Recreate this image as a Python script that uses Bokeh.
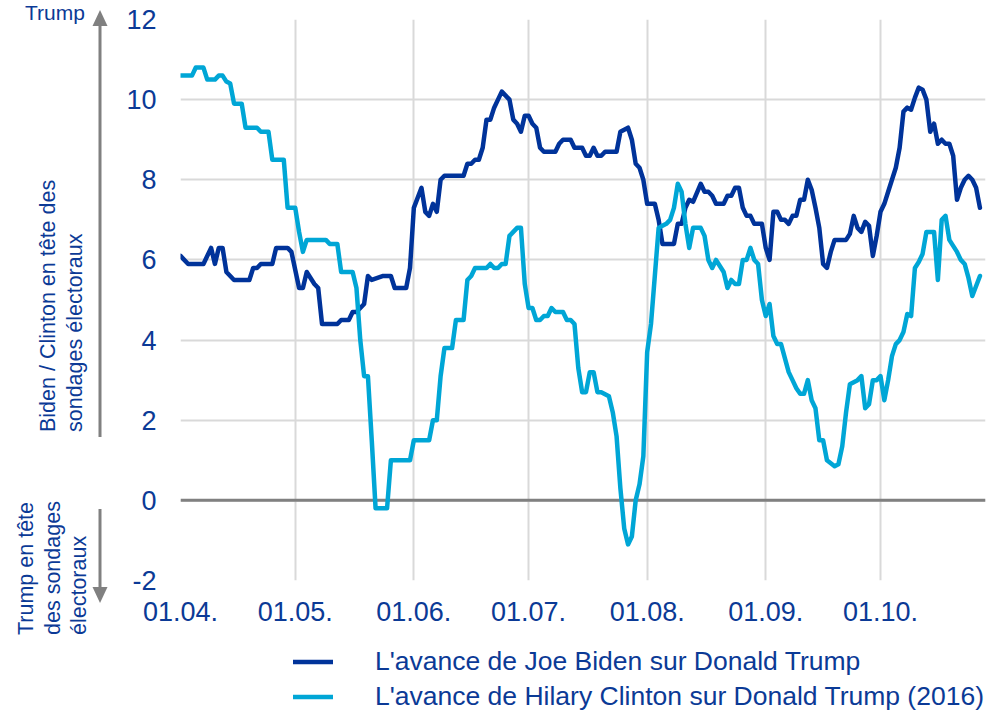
import pandas as pd
from bokeh.embed import file_html
from bokeh.layouts import column, row
from bokeh.models import (ColumnDataSource, DatetimeTickFormatter, Div, FixedTicker,
                          Legend, LegendItem, Range1d, Span)
from bokeh.plotting import figure
from bokeh.resources import INLINE

# Lead in the poll average, in percentage points, by day counted from 1 April
biden_day = [0, 2, 6, 8, 9, 10, 11, 12, 14, 18, 19, 20, 21, 24, 25, 28, 29, 31, 32, 33,
             35, 36, 37, 41, 42, 44, 45, 46, 48, 49, 50, 53, 55, 56, 59, 60, 61, 63, 64, 65,
             66, 67, 68, 69, 74, 75, 76, 77, 78, 79, 80, 81, 82, 83, 84, 85, 86, 87, 88, 89,
             90, 91, 92, 93, 94, 95, 98, 99, 100, 102, 103, 105, 106, 107, 108, 109, 110, 111, 114, 115,
             117, 118, 119, 120, 121, 122, 124, 125, 126, 129, 130, 131, 132, 133, 134, 136, 137, 138, 139, 140,
             142, 143, 144, 145, 146, 147, 148, 149, 150, 152, 153, 154, 155, 156, 157, 158, 159, 160, 161, 162,
             163, 164, 165, 166, 167, 168, 169, 170, 171, 174, 175, 176, 177, 178, 179, 180, 181, 182, 183, 184,
             185, 186, 187, 188, 189, 190, 191, 192, 193, 194, 195, 196, 197, 198, 199, 200, 201, 202, 203, 204,
             205, 206, 207, 208, 209]
biden_lead = [6.1, 5.9, 5.9, 6.3, 5.9, 6.3, 6.3, 5.7, 5.5, 5.5, 5.8, 5.8, 5.9, 5.9, 6.3, 6.3, 6.2, 5.3, 5.3, 5.7,
              5.4, 5.3, 4.4, 4.4, 4.5, 4.5, 4.7, 4.7, 4.9, 5.6, 5.5, 5.6, 5.6, 5.3, 5.3, 5.8, 7.3, 7.8, 7.2, 7.1,
              7.4, 7.2, 8.0, 8.1, 8.1, 8.4, 8.4, 8.5, 8.5, 8.8, 9.5, 9.5, 9.8, 10.0, 10.2, 10.1, 10.0, 9.5, 9.4, 9.2,
              9.6, 9.6, 9.4, 9.3, 8.8, 8.7, 8.7, 8.9, 9.0, 9.0, 8.8, 8.8, 8.6, 8.6, 8.8, 8.6, 8.6, 8.7, 8.7, 9.2,
              9.3, 9.0, 8.4, 8.3, 8.0, 7.4, 7.4, 7.0, 6.4, 6.4, 6.9, 6.9, 7.3, 7.5, 7.45, 7.9, 7.7, 7.7, 7.6, 7.4,
              7.4, 7.6, 7.6, 7.8, 7.8, 7.3, 7.1, 7.1, 6.9, 6.9, 6.3, 6.0, 7.2, 7.2, 7.0, 7.0, 6.9, 7.1, 7.1, 7.5,
              7.5, 8.0, 7.75, 7.3, 6.8, 5.9, 5.8, 6.2, 6.5, 6.5, 6.65, 7.1, 6.8, 6.7, 6.95, 6.85, 6.1, 6.6, 7.2, 7.4,
              7.7, 8.0, 8.3, 8.8, 9.7, 9.8, 9.75, 10.05, 10.3, 10.25, 10.0, 9.2, 9.4, 8.9, 9.0, 8.9, 8.9, 8.6, 7.5, 7.8,
              8.0, 8.1, 8.0, 7.8, 7.3]

clinton_day = [0, 3, 4, 6, 7, 9, 10, 11, 12, 13, 14, 16, 17, 20, 21, 23, 24, 27, 28, 30,
               31, 32, 33, 38, 39, 41, 42, 45, 46, 47, 48, 49, 50, 51, 54, 55, 60, 61, 65, 66,
               67, 68, 69, 71, 72, 74, 75, 76, 77, 80, 81, 82, 83, 84, 85, 86, 87, 88, 89, 90,
               91, 92, 93, 94, 95, 96, 97, 98, 99, 100, 101, 102, 103, 104, 105, 106, 107, 108, 109, 110,
               111, 112, 113, 114, 115, 116, 117, 118, 119, 120, 121, 122, 123, 124, 125, 126, 127, 128, 129, 130,
               131, 132, 133, 134, 136, 137, 138, 139, 140, 142, 143, 144, 145, 146, 147, 148, 149, 150, 151, 152,
               153, 154, 155, 156, 157, 159, 160, 161, 162, 163, 164, 165, 166, 167, 168, 169, 171, 172, 173, 174,
               175, 177, 178, 179, 180, 181, 182, 183, 184, 185, 186, 187, 188, 189, 190, 191, 192, 193, 194, 195,
               197, 198, 199, 200, 201, 202, 203, 204, 205, 206, 207, 209]
clinton_lead = [10.6, 10.6, 10.8, 10.8, 10.5, 10.5, 10.6, 10.6, 10.45, 10.4, 9.9, 9.9, 9.3, 9.3, 9.2, 9.2, 8.5, 8.5, 7.3, 7.3,
                6.7, 6.2, 6.5, 6.5, 6.4, 6.4, 5.7, 5.7, 5.3, 4.0, 3.1, 3.1, 1.5, -0.2, -0.2, 1.0, 1.0, 1.5, 1.5, 2.0,
                2.0, 3.1, 3.8, 3.8, 4.5, 4.5, 5.5, 5.6, 5.8, 5.8, 5.9, 5.8, 5.8, 5.9, 5.9, 6.6, 6.7, 6.8, 6.8, 5.4,
                4.8, 4.8, 4.5, 4.5, 4.6, 4.6, 4.8, 4.7, 4.7, 4.7, 4.5, 4.5, 4.4, 3.3, 2.7, 2.7, 3.2, 3.2, 2.7, 2.7,
                2.65, 2.6, 2.2, 1.6, 0.3, -0.7, -1.1, -0.9, 0.0, 0.4, 1.1, 3.7, 4.4, 5.6, 6.8, 6.85, 6.9, 7.0, 7.3, 7.9,
                7.7, 6.9, 6.3, 6.8, 6.8, 6.6, 6.0, 5.8, 6.0, 5.7, 5.3, 5.5, 5.4, 5.4, 6.0, 6.0, 6.3, 6.0, 5.9, 5.0,
                4.6, 4.9, 4.1, 3.9, 3.9, 3.2, 3.0, 2.8, 2.66, 2.66, 3.0, 2.5, 2.3, 1.5, 1.5, 1.0, 0.85, 0.9, 1.35, 2.2,
                2.9, 3.0, 3.1, 2.3, 2.4, 3.0, 3.0, 3.1, 2.5, 3.0, 3.6, 3.9, 4.0, 4.2, 4.65, 4.6, 5.8, 5.95, 6.15, 6.7,
                6.7, 5.5, 7.0, 7.1, 6.5, 6.35, 6.2, 6.0, 5.9, 5.55, 5.1, 5.6]

y_ticks = [-2, 0, 2, 4, 6, 8, 10, 12]
month_starts = ["2020-04-01", "2020-05-01", "2020-06-01", "2020-07-01",
                "2020-08-01", "2020-09-01", "2020-10-01"]
series_labels = ["L'avance de Joe Biden sur Donald Trump",
                 "L'avance de Hilary Clinton sur Donald Trump (2016)"]
lead_up_note = ["Biden / Clinton en tête des", "sondages électoraux"]
lead_down_note = ["Trump en tête", "des sondages", "électoraux"]

assert len(biden_day) == len(biden_lead)
assert len(clinton_day) == len(clinton_lead)

START = pd.Timestamp("2020-04-01")
BIDEN_BLUE = "#00339a"
CLINTON_BLUE = "#00a6d6"
TEXT_BLUE = "#0b3a96"
GREY = "#808080"
FONT = "Liberation Sans"
LINE_STYLE = dict(line_width=4.5, line_join="round", line_cap="round")
SIDE_W = 110  # width of the annotation strip left of the chart


def to_dates(days):
    return [START + pd.Timedelta(days=d) for d in days]


src_biden = ColumnDataSource(dict(date=to_dates(biden_day), lead=biden_lead))
src_clinton = ColumnDataSource(dict(date=to_dates(clinton_day), lead=clinton_lead))

# ---- main chart -------------------------------------------------------------
p = figure(width=987 - SIDE_W, height=640, x_axis_type="datetime",
           x_range=Range1d(START, START + pd.Timedelta(days=210.45)),
           y_range=Range1d(-2, 12),
           output_backend="svg", toolbar_location=None,
           min_border_left=180 - SIDE_W, min_border_right=2, min_border_top=19,
           min_border_bottom=60)
p.outline_line_color = None
p.background_fill_color = "white"

month_ticker = FixedTicker(ticks=[pd.Timestamp(m).timestamp() * 1000 for m in month_starts])
p.xaxis.ticker = month_ticker
p.xgrid.ticker = month_ticker
fmt = "%d.%m."
p.xaxis.formatter = DatetimeTickFormatter(days=fmt, months=fmt, years=fmt, hours=fmt,
                                          hourmin=fmt, minutes=fmt, minsec=fmt,
                                          seconds=fmt, milliseconds=fmt, microseconds=fmt)
p.yaxis.ticker = FixedTicker(ticks=y_ticks)
p.yaxis.major_label_overrides = {t: str(t) for t in y_ticks}

for ax in (p.xaxis, p.yaxis):
    ax.axis_line_color = None
    ax.major_tick_line_color = None
    ax.minor_tick_line_color = None
    ax.major_tick_out = 0
    ax.major_tick_in = 0
    ax.minor_tick_out = 0
    ax.major_label_text_font = FONT
    ax.major_label_text_font_size = "27px"
    ax.major_label_text_color = TEXT_BLUE
p.yaxis.major_label_standoff = 24
p.xaxis.major_label_standoff = 21

p.grid.grid_line_color = "#d9d9d9"
p.grid.grid_line_width = 2

p.add_layout(Span(location=0, dimension="width", line_color=GREY, line_width=3,
                  level="underlay"))

p.line("date", "lead", source=src_biden, line_color=BIDEN_BLUE, **LINE_STYLE)
p.line("date", "lead", source=src_clinton, line_color=CLINTON_BLUE, **LINE_STYLE)

# ---- legend strip under the chart ----------------------------------------------
leg = figure(width=987 - SIDE_W, height=74, x_range=(0, 1), y_range=(0, 1),
             output_backend="svg", toolbar_location=None,
             min_border_left=0, min_border_right=0, min_border_top=0, min_border_bottom=0)
leg.axis.visible = False
leg.grid.visible = False
leg.outline_line_color = None
# key renderers only; their points sit outside the strip's ranges
k_biden = leg.line([2, 3], [2, 3], line_color=BIDEN_BLUE, **LINE_STYLE)
k_clinton = leg.line([2, 3], [2, 3], line_color=CLINTON_BLUE, **LINE_STYLE)
legend = Legend(items=[LegendItem(label=series_labels[0], renderers=[k_biden]),
                       LegendItem(label=series_labels[1], renderers=[k_clinton])],
                location=(113, 0), orientation="vertical", glyph_width=40, glyph_height=35,
                label_height=35, label_standoff=42, spacing=0, padding=0, margin=0,
                border_line_color=None, background_fill_alpha=0,
                label_text_font=FONT, label_text_font_size="26.5px",
                label_text_color=TEXT_BLUE)
leg.add_layout(legend)

# ---- side strip: who leads above / below the zero line ---------------------------
def vtext(x, y, s):
    return (f'<text transform="translate({x},{y}) rotate(-90)" font-family="{FONT}" '
            f'font-size="21.5" fill="{TEXT_BLUE}">{s}</text>')


svg = [f'<svg xmlns="http://www.w3.org/2000/svg" width="{SIDE_W}" height="714" '
       f'style="display:block">',
       f'<text x="25" y="20" font-family="{FONT}" font-size="21" fill="{TEXT_BLUE}">Trump</text>']
svg += [vtext(x, 432, s) for x, s in zip((55, 82), lead_up_note)]
svg += [vtext(x, 635, s) for x, s in zip((33, 60, 86), lead_down_note)]
svg += [f'<line x1="100" y1="437" x2="100" y2="22" stroke="{GREY}" stroke-width="3"/>',
        f'<polygon points="100,10 92.5,26 107.5,26" fill="{GREY}"/>',
        f'<line x1="100" y1="509" x2="100" y2="591" stroke="{GREY}" stroke-width="3"/>',
        f'<polygon points="100,603 92.5,587 107.5,587" fill="{GREY}"/>',
        '</svg>']
side = Div(text="".join(svg), width=SIDE_W, height=714, margin=(0, 0, 0, 0),
           styles={"padding": "0", "overflow": "visible"})

layout = row(side, column(p, leg, spacing=0), spacing=0)
open("out.html", "w").write(file_html(layout, INLINE))
